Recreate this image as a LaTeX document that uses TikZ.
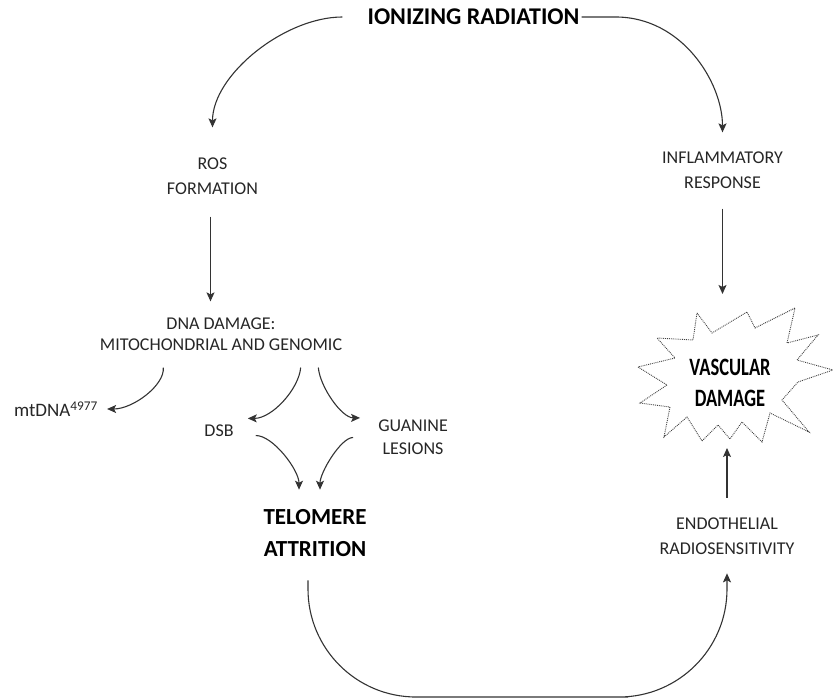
\documentclass[tikz,border=0pt]{standalone}
\usepackage{fontspec}
\setmainfont{Carlito}
\usetikzlibrary{arrows.meta}

\begin{document}
\begin{tikzpicture}[x=1pt, y=-1pt,
  lbl/.style={align=center, inner sep=2pt, text=black!85, font=\fontsize{18}{25}\selectfont},
  big/.style={align=center, inner sep=2pt, text=black, font=\fontsize{23}{32}\selectfont\bfseries},
  burst/.style={draw=black!75, densely dotted, line width=0.9pt, line join=miter},
  arr/.style={-{Stealth[length=9pt, width=8pt, inset=2pt]}, black!80, line width=1.1pt}
]
  \useasboundingbox (0,0) rectangle (833,700);

  % starburst outline
  \draw[burst] (697,313) -- (712,333) -- (747,312) -- (755,328) -- (795,308) -- (787,343)
    -- (818,335) -- (797,360) -- (833,370) -- (798,382) -- (782,400) -- (809,432)
    -- (770,413) -- (762,442) -- (742,422) -- (730,439) -- (718,425) -- (702,441)
    -- (687,417) -- (664,437) -- (670,407) -- (640,403) -- (667,385) -- (638,367)
    -- (675,358) -- (657,338) -- (693,340) -- cycle;
  \coordinate (vtop) at (723,310);
  \coordinate (vbot) at (727,445);

  \node[big, font=\fontsize{24}{30}\selectfont\bfseries] (ionizing) at (473.5,17) {IONIZING RADIATION};
  \node[lbl] (ros) at (212.5,176) {ROS\\FORMATION};
  \node[lbl] (inflam) at (722.5,170) {INFLAMMATORY\\RESPONSE};
  \node[lbl, font=\fontsize{18}{21}\selectfont] (dnadmg) at (221,334) {DNA DAMAGE:\\MITOCHONDRIAL AND GENOMIC};
  \node[lbl, font=\fontsize{19}{25}\selectfont] (mtdna) at (56,409) {mtDNA\textsuperscript{4977}};
  \node[lbl] (dsb) at (219,430.5) {DSB};
  \node[lbl, font=\fontsize{18}{23}\selectfont] (guanine) at (413,437.5) {GUANINE\\LESIONS};
  \node[big] (telomere) at (315,533.5) {TELOMERE\\ATTRITION};
  \node[big, font=\fontsize{18.5}{31}\selectfont\bfseries] (vascular) at (730,383)
    {\scalebox{1}[1.35]{VASCULAR}\\\scalebox{1}[1.35]{DAMAGE}};
  \node[lbl, font=\fontsize{18}{24.5}\selectfont] (endo) at (727,536) {ENDOTHELIAL\\RADIOSENSITIVITY};

  \draw[arr, shorten <=23pt, shorten >=28pt] (ionizing.west) to[out=180, in=90] (ros.north);
  \draw[arr, shorten >=17pt] (ionizing.east) -- ++(34,0) to[out=0, in=90] (inflam.north);
  \draw[arr, shorten <=20pt, shorten >=14pt] ([xshift=-2pt]ros.south) -- ([xshift=-2pt]ros.south |- dnadmg.north);
  \draw[arr, shorten <=18pt, shorten >=16pt] (inflam.south) -- (inflam.south |- vtop);
  \draw[arr, shorten <=15pt, shorten >=7pt] ([xshift=-59pt]dnadmg.south) to[out=-85, in=0] (mtdna.east);
  \draw[arr, shorten <=15pt, shorten >=12pt] ([xshift=81pt]dnadmg.south) to[out=-95, in=0] ([yshift=4pt]dsb.north east);
  \draw[arr, shorten <=15pt, shorten >=16pt] ([xshift=96pt]dnadmg.south) to[out=-85, in=180] (guanine.north west);
  \draw[arr, shorten <=20pt, shorten >=18pt] ([yshift=-5pt]dsb.east) to[out=0, in=90] ([xshift=-16pt]telomere.north);
  \draw[arr, shorten <=23pt, shorten >=18pt] (guanine.west) to[out=180, in=90] ([xshift=5pt]telomere.north);
  \draw[arr, shorten <=18pt, shorten >=3pt] (endo.north) -- (endo.north |- vbot);

  \coordinate (bottom) at (520,697);
  \draw[arr, rounded corners=108pt, shorten <=21pt, shorten >=17pt] ([xshift=-7pt]telomere.south) |- (bottom) -| (endo.south);
\end{tikzpicture}
\end{document}
